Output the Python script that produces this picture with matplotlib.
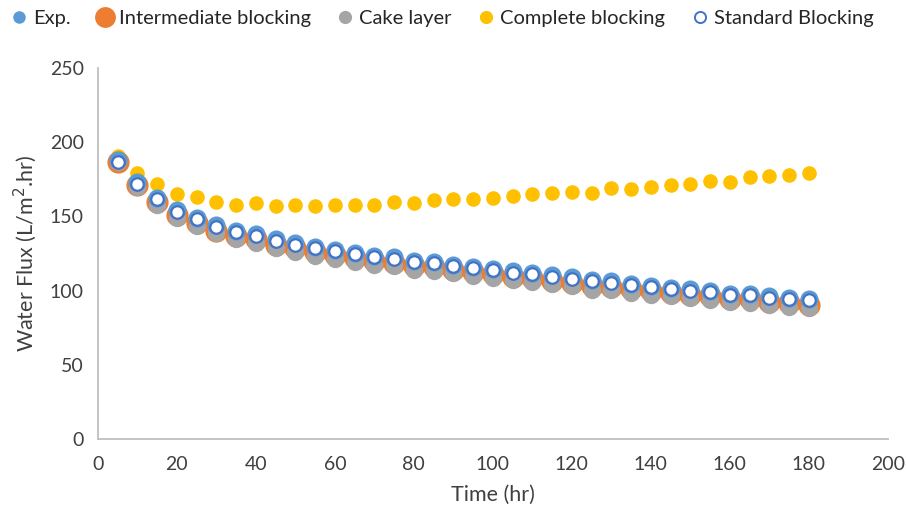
import matplotlib
matplotlib.use("Agg")
from matplotlib import pyplot as plt
from matplotlib.lines import Line2D

plt.rcParams['font.family'] = ['Lato', 'DejaVu Sans']

time_hr = [5, 10, 15, 20, 25, 30, 35, 40, 45, 50, 55, 60, 65, 70, 75, 80, 85, 90,
           95, 100, 105, 110, 115, 120, 125, 130, 135, 140, 145, 150, 155, 160, 165, 170, 175, 180]

exp_flux = [188, 173, 162.5, 154, 149, 144, 140.5, 138, 134.5, 132, 129.5, 127.5,
            125.5, 123.5, 122.5, 120, 119.5, 117.5, 116, 114.5, 113, 112, 110.3, 109,
            107, 106.5, 104.5, 103.2, 102, 100.8, 100, 98, 98, 96.3, 95.2, 94.5]

intermediate = [187, 171, 160, 151, 145.5, 140.5, 137, 134.5, 131, 128.5, 126, 124,
                122, 120, 118.8, 116.5, 115.8, 114, 112.4, 111, 109.4, 108.3, 106.6, 105.3,
                103, 102.7, 101, 99.5, 98.5, 97, 96.3, 94.4, 94.3, 92.5, 91.5, 90.6]

cake = [186.5, 169.5, 158, 149, 143.5, 138.5, 135, 132, 128.5, 126, 123.5, 121.5,
        119.5, 117.5, 116.5, 114, 113.4, 111.6, 110, 108.7, 107, 106, 104.3, 103,
        100.7, 100.4, 98.6, 97.2, 96.2, 94.8, 94, 92.2, 92, 90.3, 89.2, 88.5]

complete = [191, 179, 172, 165, 163, 160, 158, 159, 157, 157.5, 157, 158,
            158, 158, 160, 159, 161, 161.5, 162, 162.5, 164, 165, 165.5, 166.5,
            165.5, 169, 168.5, 170, 171, 172, 174, 173, 176.5, 177, 178, 179.5]

standard = [187, 172, 161.5, 153, 148, 143, 139.5, 137, 133.5, 131, 128.5, 126.5,
            124.5, 122.7, 121.5, 119, 118.4, 116.6, 115, 113.7, 112, 111, 109.3, 108,
            106.5, 105.4, 103.6, 102.2, 101.2, 99.8, 99, 97.1, 97.1, 95.3, 94.2, 93.5]

c_blue = "#5B9BD5"
c_orange = "#ED7D31"
c_gray = "#A5A5A5"
c_yellow = "#FFC000"
c_std = "#4472C4"

fig = plt.figure(figsize=(9.06, 5.19), dpi=100)
ax = fig.add_axes([0.108, 0.154, 0.872, 0.715])

ax.plot(time_hr, complete, "o", ms=10.5, color=c_yellow, mec="none", zorder=1)
ax.plot(time_hr, intermediate, "o", ms=16, color=c_orange, mec="none", zorder=2)
ax.plot(time_hr, cake, "o", ms=12.5, color=c_gray, mec="none", zorder=3)
ax.plot(time_hr, exp_flux, "o", ms=13, color=c_blue, mec="none", zorder=4)
ax.plot(time_hr, standard, "o", ms=9, mfc="white", mec=c_std, mew=1.6, zorder=5)

ax.set_xlim(0, 200)
ax.set_ylim(0, 250)
ax.set_xticks(range(0, 201, 20))
ax.set_yticks(range(0, 251, 50))
ax.tick_params(length=0, labelsize=14, colors="#404040", pad=12)
ax.tick_params(axis="y", pad=10)
for s in ["top", "right"]:
    ax.spines[s].set_visible(False)
for s in ["left", "bottom"]:
    ax.spines[s].set_color("#BFBFBF")
    ax.spines[s].set_linewidth(1.3)

ax.set_xlabel("Time (hr)", fontsize=15.5, color="#404040", labelpad=9)
ax.set_ylabel("Water Flux (L/m$^2$.hr)", fontsize=15.5, color="#404040", labelpad=8)

handles = [
    Line2D([], [], ls="none", marker="o", ms=9, color=c_blue, mec="none"),
    Line2D([], [], ls="none", marker="o", ms=15, color=c_orange, mec="none"),
    Line2D([], [], ls="none", marker="o", ms=9.5, color=c_gray, mec="none"),
    Line2D([], [], ls="none", marker="o", ms=9.5, color=c_yellow, mec="none"),
    Line2D([], [], ls="none", marker="o", ms=8, mfc="white", mec=c_std, mew=1.4),
]
labels = ["Exp.", "Intermediate blocking", "Cake layer", "Complete blocking", "Standard Blocking"]
fig.legend(handles, labels, loc="center", bbox_to_anchor=(0.488, 0.965), ncol=5,
           frameon=False, fontsize=14.5, handlelength=0.8, handletextpad=0.3,
           columnspacing=1.3, labelcolor="#262626")

plt.savefig("out.png", dpi=100)
plt.close()
